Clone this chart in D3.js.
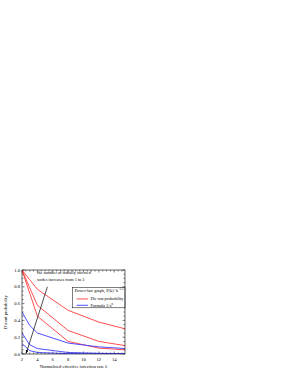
<!DOCTYPE html>
<html>
<head>
<meta charset="utf-8">
<script src="https://cdn.jsdelivr.net/npm/d3@7"></script>
<style>
  body { margin: 0; background: #fff; }
  svg { display: block; font-family: "Liberation Serif", "DejaVu Serif", serif; }
</style>
</head>
<body>
<script>
// x positions of the samples (normalized effective infection rate)
const rates = [2, 3, 4, 8, 12, 15.4];
// die-out probability, 1 to 3 initially infected nodes
const dieout1 = [1.0, 0.885, 0.77, 0.52, 0.38, 0.30];
const dieout2 = [1.0, 0.79, 0.58, 0.28, 0.15, 0.10];
const dieout3 = [1.0, 0.725, 0.45, 0.15, 0.07, 0.05];
// formula 1/x^n, n = 1..3
const formula1 = [0.50, 0.34, 0.25, 0.13, 0.085, 0.065];
const formula2 = [0.25, 0.11, 0.065, 0.018, 0.008, 0.005];
const formula3 = [0.125, 0.04, 0.018, 0.004, 0.002, 0.001];
const xTicks = [2, 4, 6, 8, 10, 12, 14];
const yTicks = [0, 0.2, 0.4, 0.6, 0.8, 1.0];

const chart = { width: 287, height: 372, left: 22, right: 125, top: 270, bottom: 354 };

const svg = d3.select("body").append("svg")
    .attr("width", chart.width)
    .attr("height", chart.height);

const x = d3.scaleLinear().domain([2, 15.4]).range([chart.left, chart.right]);
const y = d3.scaleLinear().domain([0, 1]).range([chart.bottom, chart.top]);

// minor ticks, inside on all four sides
const minorX = d3.range(2, 15.4, 0.5);
const minorY = d3.range(0, 1.0001, 0.05);
const ticks = svg.append("g").attr("stroke", "#000").attr("stroke-width", 0.5);
minorX.forEach(v => {
    const len = v % 2 === 0 ? 2.5 : 1.5;
    ticks.append("line").attr("x1", x(v)).attr("x2", x(v)).attr("y1", chart.bottom).attr("y2", chart.bottom - len);
    ticks.append("line").attr("x1", x(v)).attr("x2", x(v)).attr("y1", chart.top).attr("y2", chart.top + len);
});
minorY.forEach(v => {
    const len = Math.round(v * 100) % 20 === 0 ? 2.5 : 1.5;
    ticks.append("line").attr("y1", y(v)).attr("y2", y(v)).attr("x1", chart.left).attr("x2", chart.left + len);
    ticks.append("line").attr("y1", y(v)).attr("y2", y(v)).attr("x1", chart.right).attr("x2", chart.right - len);
});

// tick labels
svg.append("g").selectAll("text").data(xTicks).enter().append("text")
    .attr("x", d => x(d)).attr("y", chart.bottom + 7)
    .attr("text-anchor", "middle").attr("font-size", 4.6)
    .text(d => d);
svg.append("g").selectAll("text").data(yTicks).enter().append("text")
    .attr("x", chart.left - 2).attr("y", d => y(d) + 1.6)
    .attr("text-anchor", "end").attr("font-size", 4.6)
    .text(d => d.toFixed(1));

const line = d3.line().x((d, i) => x(rates[i])).y(d => y(d));

const clip = svg.append("clipPath").attr("id", "plot")
    .append("rect").attr("x", chart.left).attr("y", chart.top - 1)
    .attr("width", chart.right - chart.left).attr("height", chart.bottom - chart.top + 1);

const lines = svg.append("g").attr("clip-path", "url(#plot)").attr("fill", "none").attr("stroke-width", 0.9);
[dieout1, dieout2, dieout3].forEach(s => {
    lines.append("path").attr("d", line(s)).attr("stroke", "#ff3b3b");
});
[formula1, formula2, formula3].forEach(s => {
    lines.append("path").attr("d", line(s)).attr("stroke", "#3b3bff");
});

// annotation arrow
svg.append("defs").append("marker")
    .attr("id", "head").attr("viewBox", "0 0 10 10")
    .attr("refX", 9).attr("refY", 5)
    .attr("markerWidth", 5).attr("markerHeight", 5)
    .attr("orient", "auto")
    .append("path").attr("d", "M0,1 L10,5 L0,9 Z").attr("fill", "#000");
svg.append("line")
    .attr("x1", x(5.3)).attr("y1", y(0.80))
    .attr("x2", x(2.55)).attr("y2", y(0.01))
    .attr("stroke", "#000").attr("stroke-width", 0.7)
    .attr("marker-end", "url(#head)");
const note = svg.append("text").attr("font-size", 4.3);
note.append("tspan").attr("x", x(4.0)).attr("y", y(0.955)).text("the number of initially infected");
note.append("tspan").attr("x", x(4.0)).attr("y", y(0.87)).text("nodes increases from 1 to 3");

// legend
const legend = svg.append("g");
legend.append("rect")
    .attr("x", x(8.6)).attr("y", y(0.79))
    .attr("width", chart.right - x(8.6)).attr("height", y(0.55) - y(0.79))
    .attr("fill", "#fff").attr("stroke", "#000").attr("stroke-width", 0.5);
const title = legend.append("text").attr("x", x(8.85)).attr("y", y(0.74)).attr("font-size", 4.3);
title.append("tspan").text("Power-law graph, P(k)~k");
title.append("tspan").attr("dy", -1.8).attr("font-size", 3).text("−2.5");
const legendItems = [["Die-out probability", "#ff3b3b"], ["Formula 1/x", "#3b3bff"]];
legendItems.forEach(([label, color], i) => {
    const ly = y(0.655 - i * 0.075);
    legend.append("line")
        .attr("x1", x(9.1)).attr("x2", x(10.6)).attr("y1", ly).attr("y2", ly)
        .attr("stroke", color).attr("stroke-width", 0.9);
    const t = legend.append("text").attr("x", x(10.9)).attr("y", ly + 1.5).attr("font-size", 4.3).text(label);
    if (i === 1) t.append("tspan").attr("dy", -1.8).attr("font-size", 3).text("n");
});

// frame
svg.append("rect")
    .attr("x", chart.left).attr("y", chart.top)
    .attr("width", chart.right - chart.left).attr("height", chart.bottom - chart.top)
    .attr("fill", "none").attr("stroke", "#000").attr("stroke-width", 0.6);

// axis titles
svg.append("text")
    .attr("x", (chart.left + chart.right) / 2).attr("y", 368)
    .attr("text-anchor", "middle").attr("font-size", 4.6)
    .text("Normalized effective infection rate λ");
svg.append("text")
    .attr("transform", `translate(7,${(chart.top + chart.bottom) / 2}) rotate(-90)`)
    .attr("text-anchor", "middle").attr("font-size", 4.6)
    .text("Dieout probability");
</script>
</body>
</html>
